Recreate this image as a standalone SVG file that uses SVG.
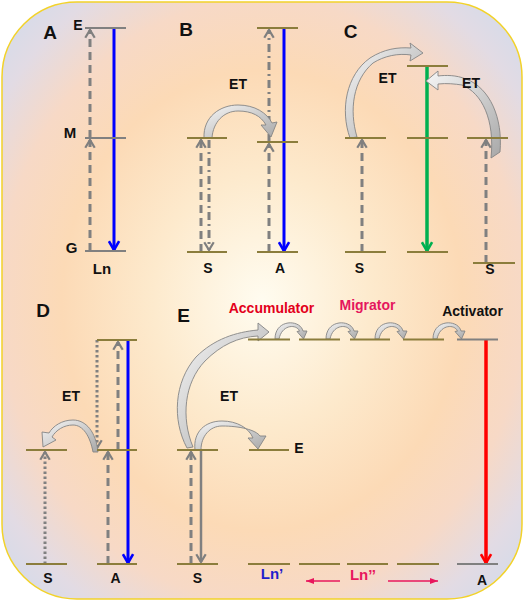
<svg xmlns="http://www.w3.org/2000/svg" width="526" height="603" viewBox="0 0 526 603">
<defs>
<radialGradient id="bg" cx="0.5" cy="0.5" r="0.7">
<stop offset="0" stop-color="#fffcf0"/>
<stop offset="0.3" stop-color="#fdeacd"/>
<stop offset="0.55" stop-color="#fcdab6"/>
<stop offset="0.72" stop-color="#f7d9c6"/>
<stop offset="0.86" stop-color="#e2dbe4"/>
<stop offset="1" stop-color="#d0dbec"/>
</radialGradient>
<linearGradient id="rib" x1="0" y1="0" x2="1" y2="1">
<stop offset="0" stop-color="#f6f6f6"/>
<stop offset="1" stop-color="#a8a8a8"/>
</linearGradient>
<marker id="mg" viewBox="0 0 14 14" refX="11" refY="7" markerWidth="12" markerHeight="12" markerUnits="userSpaceOnUse" orient="auto">
<path d="M2,1.5 L11,7 L2,12.5" fill="none" stroke="#7f7f7f" stroke-width="2.6"/>
</marker>
<marker id="mb" viewBox="0 0 14 14" refX="11.5" refY="7" markerWidth="13" markerHeight="13" markerUnits="userSpaceOnUse" orient="auto">
<path d="M2,1.5 L11.5,7 L2,12.5" fill="none" stroke="#0000ff" stroke-width="2.8"/>
</marker>
<marker id="mgr" viewBox="0 0 14 14" refX="11.5" refY="7" markerWidth="13" markerHeight="13" markerUnits="userSpaceOnUse" orient="auto">
<path d="M2,1.5 L11.5,7 L2,12.5" fill="none" stroke="#00b050" stroke-width="2.8"/>
</marker>
<marker id="mr" viewBox="0 0 14 14" refX="11.5" refY="7" markerWidth="13" markerHeight="13" markerUnits="userSpaceOnUse" orient="auto">
<path d="M2,1.5 L11.5,7 L2,12.5" fill="none" stroke="#ff0000" stroke-width="2.8"/>
</marker>
<marker id="mp" viewBox="0 0 10 10" refX="9" refY="5" markerWidth="9" markerHeight="9" markerUnits="userSpaceOnUse" orient="auto">
<path d="M0,1.5 L9,5 L0,8.5 Z" fill="#e8175d"/>
</marker>
<path id="hop" d="M0,0 C0,-20 25,-20 28,-8 L32,-8 L28.5,0 L22,-7.5 L24.5,-7.8 C22,-15 7,-15 4,0 Z"/>
</defs>
<style>
.lv{stroke:#8b7d3c;stroke-width:2;}
.lg{stroke:#808080;stroke-width:2;}
.da{stroke:#808080;stroke-width:3;stroke-dasharray:8 5;fill:none;}
.dd{stroke:#808080;stroke-width:3;stroke-dasharray:8 4 2 4;fill:none;}
.dt{stroke:#808080;stroke-width:3;stroke-dasharray:2.5 2.5;fill:none;}
.rb{fill:url(#rib);stroke:#858585;stroke-width:0.9;}
text{font-family:"Liberation Sans",Arial,sans-serif;font-weight:bold;text-anchor:middle;fill:#111;}
.big{font-size:19px;}
.sm{font-size:14px;}
.md{font-size:15px;}
</style>
<rect x="2" y="2" width="520" height="597" rx="75" ry="75" fill="url(#bg)" stroke="#f2d22a" stroke-width="1.5"/>

<g id="connectors">
<!-- A -->
<line class="da" x1="90" y1="251" x2="90" y2="140" marker-end="url(#mg)"/>
<line class="da" x1="90" y1="138" x2="90" y2="30" marker-end="url(#mg)"/>
<line x1="114" y1="28" x2="114" y2="250" stroke="#0000ff" stroke-width="3" marker-end="url(#mb)"/>
<!-- B -->
<line class="da" x1="201" y1="252" x2="201" y2="140" marker-end="url(#mg)"/>
<line class="dd" x1="209" y1="140" x2="209" y2="250" marker-end="url(#mg)"/>
<line class="da" x1="269" y1="252" x2="269" y2="144" marker-end="url(#mg)"/>
<line class="dd" x1="269" y1="142" x2="269" y2="30" marker-end="url(#mg)"/>
<line x1="284" y1="28" x2="284" y2="251" stroke="#0000ff" stroke-width="3" marker-end="url(#mb)"/>
<path class="rb" d="M204,138 C203,117 220,105 238,105 C255,105 267,113 272,123 L277,122 L271,137 L261,125 L266,125 C261,116 252,111 238,111 C224,111 213,122 212,138 Z"/>
<!-- C -->
<line class="da" x1="362" y1="252" x2="362" y2="140" marker-end="url(#mg)"/>
<line class="da" x1="486" y1="263" x2="486" y2="140" marker-end="url(#mg)"/>
<line x1="427" y1="66" x2="427" y2="251" stroke="#00b050" stroke-width="3.5" marker-end="url(#mgr)"/>
<path class="rb" d="M350,138 C340,110 346,75 370,58 C384,49 398,47 411,48 L410,43 L423,53 L410,61 L411,55 C398,53 384,56 373,63 C353,80 349,110 357,137 Z"/>
<path class="rb" d="M500,152 C503,118 490,88 466,79 C456,75 446,75 438,76 L438,71 L426,81 L438,90 L438,84 C447,83 455,84 462,85 C482,93 495,120 491,158 Z"/>
<!-- D -->
<line class="dt" x1="45" y1="564" x2="45" y2="452" marker-end="url(#mg)"/>
<line class="dt" x1="97" y1="340" x2="97" y2="448" marker-end="url(#mg)"/>
<line class="da" x1="108" y1="564" x2="108" y2="452" marker-end="url(#mg)"/>
<line class="da" x1="118" y1="450" x2="118" y2="342" marker-end="url(#mg)"/>
<line x1="128" y1="340" x2="128" y2="563" stroke="#0000ff" stroke-width="3" marker-end="url(#mb)"/>
<path class="rb" d="M98,452 C96,432 86,420 73,420 C62,420 53,426 49,433 L42,432 L43,447 L56,440 L52,437 C56,430 64,425 73,425 C83,425 90,436 93,452 Z"/>
<!-- E -->
<line class="da" x1="191" y1="564" x2="191" y2="452" marker-end="url(#mg)"/>
<line x1="201" y1="450" x2="201" y2="562" stroke="#808080" stroke-width="2.5" marker-end="url(#mg)"/>
<line x1="486" y1="340" x2="486" y2="563" stroke="#ff0000" stroke-width="3.5" marker-end="url(#mr)"/>
<path class="rb" d="M187,448 C172,420 174,382 196,357 C214,339 236,332 258,330 L258,323 L269,332 L258,341 L258,336 C238,337 221,345 205,361 C184,383 181,418 193,447 Z"/>
<path class="rb" d="M195,450 C193,432 205,421 222,421 C237,421 249,428 253,438 L248,438 L258,449 L266,436 L260,436 C256,430 240,426 222,426 C210,426 201,436 201,450 Z"/>
<use href="#hop" class="rb" x="275" y="339"/>
<use href="#hop" class="rb" x="326" y="339"/>
<use href="#hop" class="rb" x="375" y="339"/>
<use href="#hop" class="rb" x="433" y="339"/>
<line x1="340" y1="581" x2="306" y2="581" stroke="#e8175d" stroke-width="1.6" marker-end="url(#mp)"/>
<line x1="388" y1="581" x2="438" y2="581" stroke="#e8175d" stroke-width="1.6" marker-end="url(#mp)"/>
</g>

<g id="panelA">
<line class="lg" x1="85" y1="28" x2="126" y2="28"/>
<line class="lg" x1="85" y1="138" x2="126" y2="138"/>
<line class="lg" x1="85" y1="251" x2="126" y2="251"/>
<text class="big" x="50" y="39">A</text>
<text class="sm" x="78" y="30">E</text>
<text class="md" x="70" y="138">M</text>
<text class="md" x="71.5" y="253">G</text>
<text class="md" x="102" y="274">Ln</text>
</g>

<g id="panelB">
<line class="lv" x1="187" y1="138" x2="227" y2="138"/>
<line class="lv" x1="187" y1="252" x2="227" y2="252"/>
<line class="lv" x1="257" y1="28" x2="298" y2="28"/>
<line class="lv" x1="257" y1="142" x2="298" y2="142"/>
<line class="lv" x1="257" y1="252" x2="298" y2="252"/>
<text class="big" x="186" y="36">B</text>
<text class="sm" x="238" y="89">ET</text>
<text class="sm" x="208" y="273">S</text>
<text class="sm" x="280" y="273">A</text>
</g>

<g id="panelC">
<line class="lv" x1="345" y1="138" x2="386" y2="138"/>
<line class="lv" x1="345" y1="252" x2="386" y2="252"/>
<line class="lv" x1="407" y1="66" x2="448" y2="66"/>
<line class="lv" x1="407" y1="138" x2="448" y2="138"/>
<line class="lv" x1="407" y1="252" x2="448" y2="252"/>
<line class="lv" x1="467" y1="138" x2="508" y2="138"/>
<line class="lv" x1="473" y1="263" x2="515" y2="263"/>
<text class="big" x="350.5" y="38">C</text>
<text class="sm" x="387.5" y="83">ET</text>
<text class="sm" x="471" y="88">ET</text>
<text class="sm" x="359.5" y="273">S</text>
<text class="sm" x="490" y="274">S</text>
</g>

<g id="panelD">
<line class="lv" x1="26" y1="450" x2="67" y2="450"/>
<line class="lv" x1="26" y1="564" x2="67" y2="564"/>
<line class="lv" x1="97" y1="340" x2="137" y2="340"/>
<line class="lv" x1="97" y1="450" x2="137" y2="450"/>
<line class="lv" x1="97" y1="564" x2="137" y2="564"/>
<text class="big" x="43" y="317">D</text>
<text class="sm" x="71" y="401">ET</text>
<text class="sm" x="48" y="583">S</text>
<text class="sm" x="115.5" y="583">A</text>
</g>

<g id="panelE">
<line class="lv" x1="177" y1="450" x2="218" y2="450"/>
<line class="lv" x1="177" y1="564" x2="218" y2="564"/>
<line class="lv" x1="249" y1="450" x2="289" y2="450"/>
<line class="lv" x1="248" y1="339.5" x2="290" y2="339.5"/>
<line class="lv" x1="299" y1="339.5" x2="340" y2="339.5"/>
<line class="lv" x1="350" y1="339.5" x2="390" y2="339.5"/>
<line class="lv" x1="403" y1="339.5" x2="444" y2="339.5"/>
<line class="lg" x1="457" y1="339.5" x2="498" y2="339.5"/>
<line class="lv" x1="248" y1="564" x2="290" y2="564"/>
<line class="lv" x1="299" y1="564" x2="340" y2="564"/>
<line class="lv" x1="347" y1="564" x2="388" y2="564"/>
<line class="lv" x1="397" y1="564" x2="439" y2="564"/>
<line class="lg" x1="457" y1="564" x2="498" y2="564"/>
<text class="big" x="183.5" y="322">E</text>
<text class="sm" x="271.5" y="313" style="fill:#e3001b">Accumulator</text>
<text class="sm" x="367.5" y="310" style="fill:#e5175d">Migrator</text>
<text class="sm" x="472.5" y="316">Activator</text>
<text class="sm" x="229" y="401">ET</text>
<text class="sm" x="299" y="453">E</text>
<text class="sm" x="197.5" y="583">S</text>
<text class="md" x="272" y="579" style="fill:#1f1fcc">Ln’</text>
<text class="md" x="363" y="580" style="fill:#e8175d">Ln’’</text>
<text class="sm" x="482" y="585">A</text>
</g>
</svg>
